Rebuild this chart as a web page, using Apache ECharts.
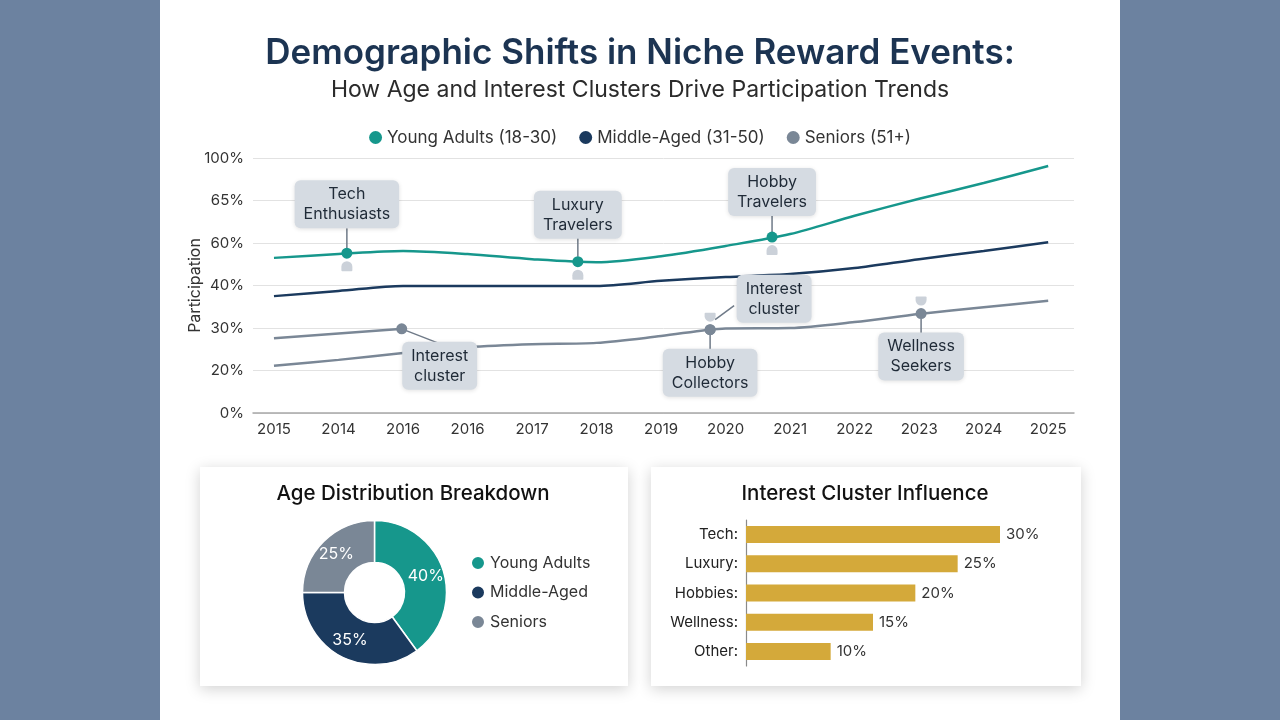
<!DOCTYPE html>
<html>
<head>
<meta charset="utf-8">
<script src="https://cdn.jsdelivr.net/npm/echarts@6/dist/echarts.min.js"></script>
<style>
  html, body { margin: 0; padding: 0; }
  #chart { width: 1280px; height: 720px;
    background: linear-gradient(to right, #6c82a0 0, #6c82a0 160px, #ffffff 160px, #ffffff 1120px, #6c82a0 1120px); }
</style>
</head>
<body>
<div id="chart"></div>
<script>
// ---------- data ----------
const years = ['2015','2014','2016','2016','2017','2018','2019','2020','2021','2022','2023','2024','2025'];
const yTickLabels = ['0%','20%','30%','40%','60%','65%','100%'];
// values expressed in the axis' tick units (0 = "0%", 6 = "100%")
const youngAdults = [3.65,3.74,3.81,3.74,3.62,3.55,3.69,3.93,4.21,4.64,5.04,5.41,5.81];
const middleAged  = [2.75,2.87,2.99,2.99,2.99,2.99,3.11,3.20,3.27,3.41,3.62,3.81,4.02];
const seniors     = [1.11,1.25,1.41,1.55,1.62,1.65,1.81,1.99,2.00,2.14,2.33,2.49,2.64];
const seniorsUpperX = [0, 2];
const seniorsUpper  = [1.76, 1.98];

const lineNames = ['Young Adults (18-30)', 'Middle-Aged (31-50)', 'Seniors (51+)'];

const annoText = ['Tech\nEnthusiasts','Luxury\nTravelers','Hobby\nTravelers','Interest\ncluster','Hobby\nCollectors','Interest\ncluster','Wellness\nSeekers'];
const annoX = [1.13, 4.71, 7.72, 1.98, 6.76, 6.76, 10.03];
const annoY = [3.76, 3.56, 4.14, 1.98, 1.96, 1.96, 2.34];
const annoGroup = [0, 0, 0, 2, 2, 2, 2];

const ageNames = ['Young Adults', 'Middle-Aged', 'Seniors'];
const ageShare = [40, 35, 25];

const clusterNames = ['Tech', 'Luxury', 'Hobbies', 'Wellness', 'Other'];
const clusterShare = [30, 25, 20, 15, 10];

// ---------- styles / layout ----------
const colors = ['#16978c', '#1b3a5e', '#7a8796'];
const FONT = 'Inter, "Noto Sans", sans-serif';
// box offset (dx,dy), leader start/end offsets, pin: 1 below, -1 above, 0 none
const annoLayout = [
  {dx:0,  dy:-49, l:[0,-5,0,-25], pin:1},
  {dx:0,  dy:-47, l:[0,-5,0,-24], pin:1},
  {dx:0,  dy:-45, l:[0,-5,0,-22], pin:1},
  {dx:38, dy:37,  l:[0,0,36,14],  pin:0},
  {dx:0,  dy:43,  l:[0,5,0,20],   pin:-1},
  {dx:64, dy:-31, l:[5,-10,24,-24], pin:0},
  {dx:0,  dy:43,  l:[0,5,0,20],   pin:-1}
];

const chart = echarts.init(document.getElementById('chart'));

function renderAnno(params, api) {
  const i = params.dataIndex;
  const p = api.coord([api.value(0), api.value(1)]);
  const L = annoLayout[i];
  const children = [];
  children.push({
    type: 'line',
    shape: {x1: p[0] + L.l[0], y1: p[1] + L.l[1], x2: p[0] + L.l[2], y2: p[1] + L.l[3]},
    style: {stroke: '#6f7a88', lineWidth: 1.5}
  });
  if (L.pin === 1) {
    children.push({type: 'rect', shape: {x: p[0] - 5.5, y: p[1] + 8, width: 11, height: 10, r: [5.5, 5.5, 1, 1]},
      style: {fill: '#cbd1d9'}});
  } else if (L.pin === -1) {
    children.push({type: 'rect', shape: {x: p[0] - 5.5, y: p[1] - 17, width: 11, height: 9, r: [1, 1, 5.5, 5.5]},
      style: {fill: '#cbd1d9'}});
  }
  children.push({
    type: 'text',
    x: p[0] + L.dx, y: p[1] + L.dy,
    style: {
      text: annoText[i], align: 'center', verticalAlign: 'middle',
      font: '16px ' + FONT, fill: '#1f2a37', lineHeight: 20,
      backgroundColor: '#d5dbe2', borderRadius: 6, padding: [4, 9],
      shadowBlur: 4, shadowColor: 'rgba(0,0,0,0.12)', shadowOffsetY: 1
    }
  });
  children.push({type: 'circle', shape: {cx: p[0], cy: p[1], r: 5.5},
    style: {fill: colors[annoGroup[i]]}});
  return {type: 'group', children: children};
}

const option = {
  backgroundColor: 'transparent',
  animation: false,
  textStyle: {fontFamily: FONT},
  title: [
    {text: 'Demographic Shifts in Niche Reward Events:', left: 'center', top: 36, padding: 0,
     textStyle: {fontSize: 35, fontWeight: 600, color: '#1c3452', fontFamily: FONT}},
    {text: 'How Age and Interest Clusters Drive Participation Trends', left: 'center', top: 79, padding: 0,
     textStyle: {fontSize: 23, fontWeight: 400, color: '#2b2b2b', fontFamily: FONT}}
  ],
  graphic: [
    {type: 'rect', z: -10, shape: {x: 200, y: 467, width: 428, height: 219},
     style: {fill: '#fff', shadowBlur: 14, shadowColor: 'rgba(0,0,0,0.18)', shadowOffsetY: 3}},
    {type: 'rect', z: -10, shape: {x: 651, y: 467, width: 430, height: 219},
     style: {fill: '#fff', shadowBlur: 14, shadowColor: 'rgba(0,0,0,0.18)', shadowOffsetY: 3}},
    {type: 'text', x: 413, y: 494, style: {text: 'Age Distribution Breakdown', align: 'center', verticalAlign: 'middle',
      font: '500 20.5px ' + FONT, fill: '#111'}},
    {type: 'text', x: 865, y: 494, style: {text: 'Interest Cluster Influence', align: 'center', verticalAlign: 'middle',
      font: '500 20.5px ' + FONT, fill: '#111'}}
  ],
  legend: [
    {data: lineNames, top: 129, left: 'center', icon: 'circle', itemWidth: 13, itemHeight: 13, itemGap: 22, padding: 0,
     textStyle: {fontSize: 17, color: '#333', fontFamily: FONT}},
    {data: ageNames, orient: 'vertical', left: 470, top: 555, icon: 'circle', itemWidth: 14, itemHeight: 14, itemGap: 13.5, padding: 0,
     textStyle: {fontSize: 16, color: '#333', fontFamily: FONT}}
  ],
  grid: [
    {left: 253, right: 206, top: 158, bottom: 307},
    {left: 746, right: 280, top: 520, bottom: 54}
  ],
  xAxis: [
    {type: 'value', gridIndex: 0, min: -0.325, max: 12.4,
     axisLine: {show: true, lineStyle: {color: '#a8a8a8', width: 1.5}},
     axisTick: {show: false}, splitLine: {show: false},
     axisLabel: {customValues: years.map((y, i) => i), formatter: v => years[Math.round(v)],
       fontSize: 15, color: '#333', margin: 9, fontFamily: FONT}},
    {type: 'value', gridIndex: 1, min: 0, max: 30, show: false}
  ],
  yAxis: [
    {type: 'value', gridIndex: 0, min: 0, max: 6, interval: 1,
     name: 'Participation', nameLocation: 'middle', nameRotate: 90, nameGap: 50, nameMoveOverlap: false,
     nameTextStyle: {fontSize: 16, color: '#333', fontFamily: FONT},
     axisLine: {show: false}, axisTick: {show: false},
     splitLine: {lineStyle: {color: '#e2e2e2', width: 1}},
     axisLabel: {formatter: v => yTickLabels[Math.round(v)], fontSize: 15, color: '#333', margin: 9, fontFamily: FONT}},
    {type: 'category', gridIndex: 1, data: clusterNames, inverse: true,
     axisLine: {show: true, lineStyle: {color: '#8a8a8a', width: 1.2}},
     axisTick: {show: false},
     axisLabel: {formatter: v => v + ':', fontSize: 15, color: '#222', margin: 8, fontFamily: FONT}}
  ],
  series: [
    {name: lineNames[0], type: 'line', xAxisIndex: 0, yAxisIndex: 0, smooth: 0.3, showSymbol: false,
     color: colors[0], lineStyle: {width: 2.5}, data: youngAdults.map((v, i) => [i, v])},
    {name: lineNames[1], type: 'line', xAxisIndex: 0, yAxisIndex: 0, smooth: 0.3, showSymbol: false,
     color: colors[1], lineStyle: {width: 2.5}, data: middleAged.map((v, i) => [i, v])},
    {name: lineNames[2], type: 'line', xAxisIndex: 0, yAxisIndex: 0, smooth: 0.3, showSymbol: false,
     color: colors[2], lineStyle: {width: 2.5}, data: seniors.map((v, i) => [i, v])},
    {name: lineNames[2], type: 'line', xAxisIndex: 0, yAxisIndex: 0, showSymbol: false,
     color: colors[2], lineStyle: {width: 2.5}, data: seniorsUpper.map((v, i) => [seniorsUpperX[i], v])},
    {type: 'custom', xAxisIndex: 0, yAxisIndex: 0, clip: false, z: 5,
     data: annoX.map((x, i) => [x, annoY[i]]), renderItem: renderAnno},
    {type: 'pie', center: [374.5, 592.5], radius: [30, 72], startAngle: 90, clockwise: true,
     itemStyle: {borderColor: '#fff', borderWidth: 1.5},
     label: {show: true, position: 'inside', formatter: '{c}%', color: '#fff', fontSize: 16, fontFamily: FONT},
     labelLine: {show: false},
     data: ageNames.map((n, i) => ({name: n, value: ageShare[i], itemStyle: {color: colors[i]}}))},
    {type: 'bar', xAxisIndex: 1, yAxisIndex: 1, barWidth: 17, color: '#d4a93a',
     label: {show: true, position: 'right', distance: 6, formatter: '{c}%', fontSize: 15, color: '#333', fontFamily: FONT},
     data: clusterShare}
  ]
};
chart.setOption(option);
</script>
</body>
</html>
